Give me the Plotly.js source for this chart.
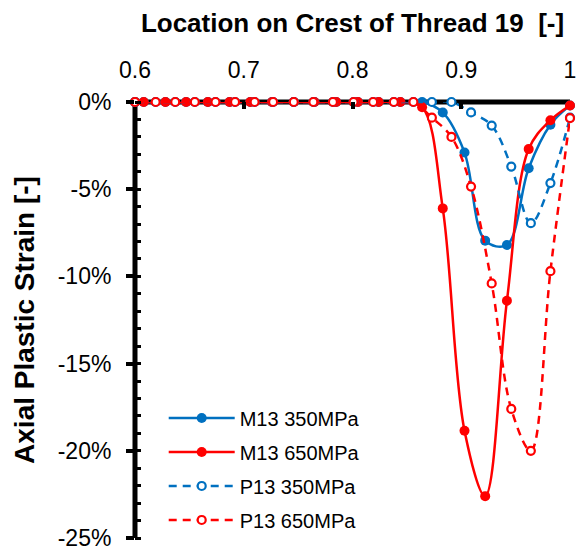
<!DOCTYPE html>
<html><head><meta charset="utf-8">
<script src="https://cdn.plot.ly/plotly-3.0.1.min.js"></script>
<style>html,body{margin:0;padding:0;background:#fff}#chart{width:584px;height:552px}</style>
</head><body><div id="chart"></div>
<script>
const seriesNames = ["M13 350MPa", "M13 650MPa", "P13 350MPa", "P13 650MPa"];
const xM13 = [0.6, 0.608, 0.628, 0.647, 0.667, 0.687, 0.706, 0.726, 0.746, 0.765, 0.785, 0.805, 0.824, 0.844, 0.864, 0.883, 0.903, 0.922, 0.942, 0.962, 0.982, 1.0];
const yM13_350 = [0, 0, 0, 0, 0, 0, 0, 0, 0, 0, 0, 0, 0, 0, 0, -0.6, -2.9, -7.95, -8.2, -3.8, -1.3, -0.2];
const yM13_650 = [0, 0, 0, 0, 0, 0, 0, 0, 0, 0, 0, 0, 0, 0, -0.3, -6.1, -18.85, -22.6, -11.4, -2.7, -1.05, -0.2];
const xP13 = [0.6, 0.619, 0.637, 0.655, 0.674, 0.692, 0.710, 0.727, 0.746, 0.764, 0.782, 0.801, 0.819, 0.838, 0.856, 0.873, 0.891, 0.909, 0.928, 0.946, 0.964, 0.982, 1.0];
const yP13_350 = [0, 0, 0, 0, 0, 0, 0, 0, 0, 0, 0, 0, 0, 0, 0, 0, 0, -0.6, -1.35, -3.7, -6.95, -4.65, -0.9];
const yP13_650 = [0, 0, 0, 0, 0, 0, 0, 0, 0, 0, 0, 0, 0, 0, 0, -0.9, -2.0, -4.85, -10.4, -17.6, -20.0, -9.7, -0.92];
const xTickVals = [0.6, 0.7, 0.8, 0.9, 1.0];
const xTickText = ["0.6", "0.7", "0.8", "0.9", "1"];
const yTickVals = [0, -5, -10, -15, -20, -25];
const yTickText = ["0%", "-5%", "-10%", "-15%", "-20%", "-25%"];

const BLUE = '#0070C0', RED = '#FF0000';
function filled(x, y, name, color) {
  return {x: x, y: y, name: name, type: 'scatter', mode: 'lines+markers', legendgroup: name,
    line: {color: color, width: 2.5, shape: 'spline', smoothing: 1},
    marker: {color: color, size: 10, symbol: 'circle'}, cliponaxis: false};
}
function open(x, y, name, color) {
  return {x: x, y: y, name: name, type: 'scatter', mode: 'lines+markers', legendgroup: name,
    line: {color: color, width: 2.5, shape: 'spline', smoothing: 1, dash: '8px,6px'},
    marker: {color: '#ffffff', size: 8, symbol: 'circle', line: {color: color, width: 2.2}}, cliponaxis: false};
}
const data = [
  filled(xM13, yM13_350, seriesNames[0], BLUE),
  filled(xM13, yM13_650, seriesNames[1], RED),
  open(xP13, yP13_350, seriesNames[2], BLUE),
  open(xP13, yP13_650, seriesNames[3], RED)
];
const FONT = '"Liberation Sans", Arial, sans-serif';
const layout = {
  width: 584, height: 552,
  margin: {l: 135, r: 14, t: 102, b: 14, pad: 0},
  paper_bgcolor: '#ffffff', plot_bgcolor: '#ffffff',
  font: {family: FONT, color: '#000000'},
  showlegend: true,
  legend: {x: 0.066, y: 0.32, xanchor: 'left', yanchor: 'top', font: {size: 20, color: '#000'},
    tracegroupgap: 5, itemwidth: 66, bgcolor: 'rgba(0,0,0,0)', traceorder: 'grouped'},
  xaxis: {range: [0.6, 1], side: 'top', tickmode: 'array', tickvals: xTickVals, ticktext: xTickText,
    ticks: 'inside', ticklen: 7, tickwidth: 4, tickcolor: '#000', showgrid: false, zeroline: false,
    showline: false, tickfont: {size: 23, color: '#000'}, ticklabelstandoff: 18, automargin: false,
    title: {text: 'Location on Crest of Thread 19\u00a0 [-]', font: {size: 26, weight: 'bold', color: '#000'}, standoff: 17}},
  yaxis: {range: [-25, 0], tickmode: 'array', tickvals: yTickVals, ticktext: yTickText,
    ticks: 'outside', ticklen: 8, tickwidth: 4, tickcolor: '#000', showgrid: false, zeroline: false,
    showline: false, tickfont: {size: 23, color: '#000'}, ticklabelstandoff: 10, automargin: false,
    minor: {dtick: 1, tick0: 0, ticks: 'inside', ticklen: 6, tickwidth: 3, tickcolor: '#000', showgrid: false},
    title: {text: 'Axial Plastic Strain [-]', font: {size: 28, weight: 'bold', color: '#000'}, standoff: 14}},
  shapes: [
    {type: 'line', xref: 'paper', yref: 'paper', x0: 0, x1: 1, y0: 1, y1: 1, layer: 'below', line: {color: '#000', width: 5}},
    {type: 'line', xref: 'paper', yref: 'paper', x0: 0, x1: 0, y0: 0, y1: 1, layer: 'below', line: {color: '#000', width: 5}}
  ]
};
Plotly.newPlot('chart', data, layout, {displayModeBar: false, staticPlot: true});
</script></body></html>
